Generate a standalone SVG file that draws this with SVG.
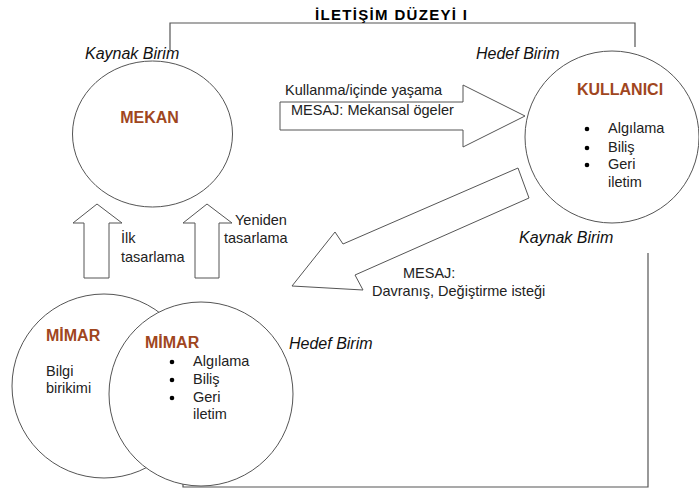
<svg xmlns="http://www.w3.org/2000/svg" width="699" height="490" viewBox="0 0 699 490">
<style>
.sh{fill:#fff;stroke:#555;stroke-width:1}
.ln{fill:none;stroke:#555;stroke-width:1.2}
.t{font-family:"Liberation Sans",Arial,sans-serif;font-size:14.5px;fill:#222}
.it{font-family:"Liberation Sans",Arial,sans-serif;font-size:16px;font-style:italic;fill:#111}
.b{font-family:"Liberation Sans",Arial,sans-serif;font-size:16px;font-weight:bold;fill:#A0461E}
.ttl{font-family:"Liberation Sans",Arial,sans-serif;font-size:15px;font-weight:bold;fill:#000}
.dot{fill:#000}
</style>
<rect width="699" height="490" fill="#fff"/>
<g id="connectors">
<path class="ln" d="M170,50 V23 H635 V47"/>
<path class="ln" d="M183,477 V487 H648 V253"/>
<polygon id="arrow-right" class="sh" points="280,102 463,102 463,85 525,116 463,147 463,130 280,130"/>
<polygon id="arrow-diag" class="sh" points="292,286 363,290 355,275 529,198 518,168 343,244 335,232"/>
<polygon id="arrow-up1" class="sh" points="97,204 122,223 109,223 109,278 84,278 84,223 73,223"/>
<polygon id="arrow-up2" class="sh" points="207,204 232,223 219,223 219,278 195,278 195,223 183,223"/>
</g>
<text class="ttl" x="315" y="20" textLength="152" lengthAdjust="spacing">İLETİŞİM DÜZEYİ  I</text>
<g id="mekan">
<ellipse class="sh" cx="152.5" cy="134" rx="80" ry="73"/>
<text class="b" x="149.5" y="123" text-anchor="middle">MEKAN</text>
<text class="it" x="85" y="59">Kaynak Birim</text>
</g>
<g id="kullanici">
<ellipse class="sh" cx="612" cy="137" rx="87" ry="86"/>
<text class="b" x="620" y="95" text-anchor="middle">KULLANICI</text>
<circle class="dot" cx="587" cy="129" r="2.3"/>
<circle class="dot" cx="587" cy="148" r="2.3"/>
<circle class="dot" cx="587" cy="165" r="2.3"/>
<text class="t" x="608" y="133">Algılama</text>
<text class="t" x="608" y="152">Biliş</text>
<text class="t" x="608" y="169">Geri</text>
<text class="t" x="608" y="187">iletim</text>
<text class="it" x="476" y="59">Hedef Birim</text>
<text class="it" x="519" y="243">Kaynak Birim</text>
</g>
<g id="labels">
<text class="t" x="285" y="95">Kullanma/içinde yaşama</text>
<text class="t" x="291" y="115">MESAJ: Mekansal ögeler</text>
<text class="t" x="121" y="243">İlk</text>
<text class="t" x="121" y="262">tasarlama</text>
<text class="t" x="235" y="225">Yeniden</text>
<text class="t" x="224" y="243">tasarlama</text>
<text class="t" x="403" y="278">MESAJ:</text>
<text class="t" x="372" y="296">Davranış, Değiştirme isteği</text>
</g>
<g id="mimar1">
<circle class="sh" cx="104" cy="386" r="92"/>
<text class="b" x="46" y="341">MİMAR</text>
<text class="t" x="46" y="376">Bilgi</text>
<text class="t" x="46" y="393">birikimi</text>
</g>
<g id="mimar2">
<circle class="sh" cx="201" cy="394" r="92"/>
<text class="b" x="145" y="348">MİMAR</text>
<circle class="dot" cx="172" cy="362" r="2.3"/>
<circle class="dot" cx="172" cy="380" r="2.3"/>
<circle class="dot" cx="172" cy="398" r="2.3"/>
<text class="t" x="193" y="366">Algılama</text>
<text class="t" x="193" y="384">Biliş</text>
<text class="t" x="193" y="402">Geri</text>
<text class="t" x="193" y="419">iletim</text>
<text class="it" x="289" y="349">Hedef Birim</text>
</g>
</svg>
